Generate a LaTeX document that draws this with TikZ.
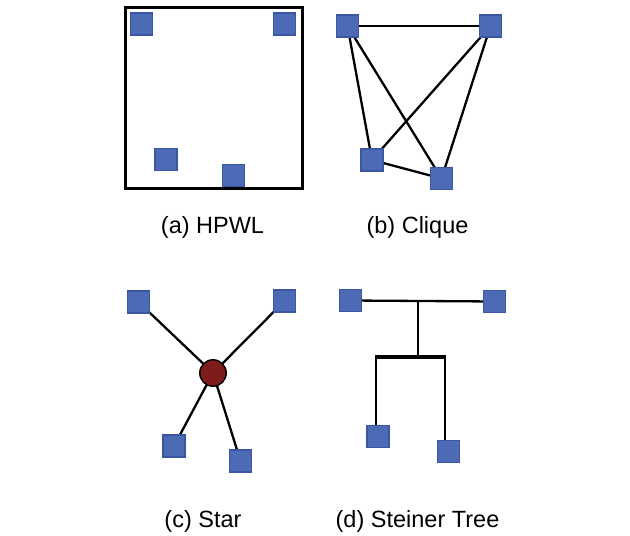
\documentclass[tikz,border=0pt]{standalone}
\usepackage{fontspec}
\setmainfont{Liberation Sans}
\usetikzlibrary{backgrounds}
\definecolor{pinfill}{RGB}{77,106,181}
\definecolor{pinedge}{RGB}{60,86,166}
\definecolor{hubfill}{RGB}{124,29,27}

\begin{document}
\begin{tikzpicture}[x=1pt, y=-1pt,
	cell/.style={rectangle, draw=pinedge, fill=pinfill, line width=1.5pt, minimum size=22pt, inner sep=0pt},
	hub/.style={circle, draw=black, fill=hubfill, line width=1.4pt, minimum size=26.5pt, inner sep=0pt},
	wire/.style={line width=2.3pt},
	bar/.style={line width=4pt},
	caption/.style={font=\fontsize{23.5}{28}\selectfont, anchor=base}]
\useasboundingbox (0,0) rectangle (630,536);

\draw[line width=3pt] (125,7) rectangle (302,188);
\node[cell] (a1) at (141.5,24) {};
\node[cell] (a2) at (284.5,24) {};
\node[cell] (a3) at (166,159.5) {};
\node[cell] (a4) at (233.5,175.5) {};
\node[caption] (capa) at (212.5,233) {(a) HPWL};

\node[cell] (b1) at (347.5,26) {};
\node[cell] (b2) at (490.5,26) {};
\node[cell] (b3) at (372,160) {};
\node[cell] (b4) at (441.5,178.5) {};
\begin{scope}[on background layer]
	\draw[wire] (b1.center) -- (b2.center);
	\draw[wire] (b1.center) -- (b3.center);
	\draw[wire] (b1.center) -- (b4.center);
	\draw[wire] (b2.center) -- (b3.center);
	\draw[wire] (b2.center) -- (b4.center);
	\draw[wire] (b3.center) -- (b4.center);
\end{scope}
\node[caption] (capb) at (417.5,233) {(b) Clique};

\node[hub] (h) at (213,373) {};
\node[cell] (c1) at (138.5,302) {};
\node[cell] (c2) at (284.5,301) {};
\node[cell] (c3) at (174,446) {};
\node[cell] (c4) at (240.5,461) {};
\begin{scope}[on background layer]
	\foreach \i in {1,...,4}
		\draw[wire] (c\i.center) -- (h.center);
\end{scope}
\node[caption] (capc) at (203,527) {(c) Star};

\node[cell] (d1) at (350.5,300.5) {};
\node[cell] (d2) at (494.5,301.5) {};
\node[cell] (d3) at (378,436.5) {};
\node[cell] (d4) at (448.5,451.5) {};
\coordinate (t1) at (418,301);
\coordinate (t2) at (418,357);
\coordinate (t3) at (376,357);
\coordinate (t4) at (445,357);
\begin{scope}[on background layer]
	\draw[wire] (d1.center) -- (d2.center);
	\draw[wire] (t1) -- (t2);
	\draw[bar] ([xshift=-1pt]t3) -- ([xshift=1pt]t4);
	\draw[wire] (t3) -- (t3 |- d3.north);
	\draw[wire] (t4) -- (t4 |- d4.north);
\end{scope}
\node[caption] (capd) at (417.5,527) {(d) Steiner Tree};
\end{tikzpicture}
\end{document}
